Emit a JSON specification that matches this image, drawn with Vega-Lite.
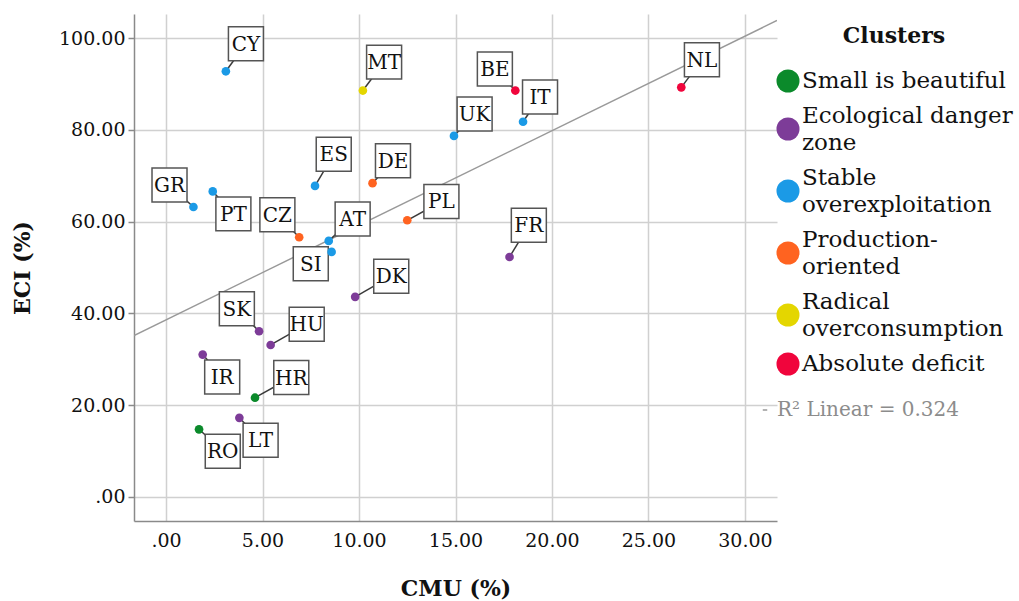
{
  "$schema": "https://vega.github.io/schema/vega-lite/v6.json",
  "autosize": "none",
  "width": 643,
  "height": 507,
  "padding": {"left": 134, "top": 14, "right": 242, "bottom": 80},
  "background": "white",
  "config": {
    "view": {"stroke": null},
    "font": "DejaVu Serif",
    "axis": {
      "labelFont": "DejaVu Serif",
      "titleFont": "DejaVu Serif",
      "labelFontSize": 19,
      "titleFontSize": 22,
      "titleFontWeight": "bold",
      "labelColor": "#111",
      "titleColor": "#111",
      "gridColor": "#d0d0d0",
      "gridWidth": 1.5,
      "domainColor": "#8a8a8a",
      "domainWidth": 1.5,
      "tickColor": "#8a8a8a",
      "tickWidth": 1.5
    },
    "legend": {
      "labelFont": "DejaVu Serif",
      "titleFont": "DejaVu Serif",
      "labelFontSize": 23,
      "titleFontSize": 22,
      "labelColor": "#111",
      "titleColor": "#111",
      "labelLimit": 500
    }
  },
  "data": {
    "values": [
      {"c": "CY", "cmu": 3.1, "eci": 92.8, "cluster": "Stable overexploitation", "lx": 4.14, "ly": 98.8},
      {"c": "MT", "cmu": 10.2, "eci": 88.6, "cluster": "Radical overconsumption", "lx": 11.3, "ly": 94.8},
      {"c": "ES", "cmu": 7.72, "eci": 67.8, "cluster": "Stable overexploitation", "lx": 8.69, "ly": 74.7},
      {"c": "DE", "cmu": 10.7, "eci": 68.4, "cluster": "Production-oriented", "lx": 11.76, "ly": 73.3},
      {"c": "GR", "cmu": 1.42, "eci": 63.2, "cluster": "Stable overexploitation", "lx": 0.18, "ly": 68.0},
      {"c": "PT", "cmu": 2.42, "eci": 66.6, "cluster": "Stable overexploitation", "lx": 3.49, "ly": 61.7},
      {"c": "CZ", "cmu": 6.9, "eci": 56.6, "cluster": "Production-oriented", "lx": 5.77, "ly": 61.5},
      {"c": "AT", "cmu": 8.43, "eci": 55.8, "cluster": "Stable overexploitation", "lx": 9.67, "ly": 60.6},
      {"c": "SI", "cmu": 8.58, "eci": 53.4, "cluster": "Stable overexploitation", "lx": 7.5, "ly": 50.8},
      {"c": "PL", "cmu": 12.5, "eci": 60.3, "cluster": "Production-oriented", "lx": 14.27, "ly": 64.4},
      {"c": "UK", "cmu": 14.92, "eci": 78.7, "cluster": "Stable overexploitation", "lx": 15.99, "ly": 83.5},
      {"c": "BE", "cmu": 18.1, "eci": 88.6, "cluster": "Absolute deficit", "lx": 17.04, "ly": 93.3},
      {"c": "IT", "cmu": 18.5, "eci": 81.8, "cluster": "Stable overexploitation", "lx": 19.38, "ly": 87.2},
      {"c": "NL", "cmu": 26.7, "eci": 89.3, "cluster": "Absolute deficit", "lx": 27.77, "ly": 95.3},
      {"c": "FR", "cmu": 17.8, "eci": 52.3, "cluster": "Ecological danger zone", "lx": 18.8, "ly": 59.2},
      {"c": "DK", "cmu": 9.8, "eci": 43.6, "cluster": "Ecological danger zone", "lx": 11.67, "ly": 48.1},
      {"c": "SK", "cmu": 4.82, "eci": 36.1, "cluster": "Ecological danger zone", "lx": 3.67, "ly": 41.0},
      {"c": "HU", "cmu": 5.42, "eci": 33.1, "cluster": "Ecological danger zone", "lx": 7.29, "ly": 37.6},
      {"c": "IR", "cmu": 1.9, "eci": 31.0, "cluster": "Ecological danger zone", "lx": 2.91, "ly": 26.1},
      {"c": "HR", "cmu": 4.61, "eci": 21.6, "cluster": "Small is beautiful", "lx": 6.49, "ly": 26.0},
      {"c": "LT", "cmu": 3.8, "eci": 17.2, "cluster": "Ecological danger zone", "lx": 4.9, "ly": 12.3},
      {"c": "RO", "cmu": 1.71, "eci": 14.7, "cluster": "Small is beautiful", "lx": 2.94, "ly": 9.9}
    ]
  },
  "layer": [
    {
      "transform": [{"regression": "eci", "on": "cmu", "method": "linear", "extent": [-1.66, 31.66]}],
      "mark": {"type": "line", "strokeWidth": 1.5, "clip": true},
      "encoding": {
        "x": {"field": "cmu", "type": "quantitative", "scale": {"domain": [-1.66, 31.66], "nice": false, "zero": false},
          "axis": {"values": [0, 5, 10, 15, 20, 25, 30], "labelExpr": "datum.value == 0 ? '.00' : format(datum.value, '.2f')", "ticks": false, "labelPadding": 10, "title": "CMU (%)", "titlePadding": 28}},
        "y": {"field": "eci", "type": "quantitative", "scale": {"domain": [-5.3, 105.3], "nice": false, "zero": false},
          "axis": {"values": [0, 20, 40, 60, 80, 100], "labelExpr": "datum.value == 0 ? '.00' : format(datum.value, '.2f')", "tickSize": 6, "labelPadding": 3, "title": "ECI (%)", "titlePadding": 24}},
        "stroke": {"datum": "R² Linear = 0.324", "type": "nominal",
          "scale": {"range": ["#999999"]},
          "legend": {"title": null, "orient": "none", "legendX": 621, "legendY": 386, "symbolType": "stroke", "symbolSize": 20, "symbolStrokeWidth": 1.5, "labelColor": "#8c8c8c", "labelFontSize": 20, "labelOffset": 2}}
      }
    },
    {
      "mark": {"type": "rule", "color": "#3a3a3a", "strokeWidth": 1.5},
      "encoding": {
        "x": {"field": "cmu", "type": "quantitative"},
        "y": {"field": "eci", "type": "quantitative"},
        "x2": {"field": "lx"},
        "y2": {"field": "ly"}
      }
    },
    {
      "mark": {"type": "point", "shape": "M-1,-0.97L1,-0.97L1,0.97L-1,0.97Z", "size": 1225, "filled": false, "fill": "white", "fillOpacity": 1, "stroke": "#555555", "strokeWidth": 1.5, "opacity": 1},
      "encoding": {
        "x": {"field": "lx", "type": "quantitative"},
        "y": {"field": "ly", "type": "quantitative"}
      }
    },
    {
      "mark": {"type": "text", "font": "DejaVu Serif", "fontSize": 20, "color": "#111", "align": "center", "baseline": "middle", "dy": 1},
      "encoding": {
        "x": {"field": "lx", "type": "quantitative"},
        "y": {"field": "ly", "type": "quantitative"},
        "text": {"field": "c"}
      }
    },
    {
      "mark": {"type": "circle", "size": 75, "opacity": 1},
      "encoding": {
        "x": {"field": "cmu", "type": "quantitative"},
        "y": {"field": "eci", "type": "quantitative"},
        "fill": {"field": "cluster", "type": "nominal",
          "scale": {
            "domain": ["Small is beautiful", "Ecological danger zone", "Stable overexploitation", "Production-oriented", "Radical overconsumption", "Absolute deficit"],
            "range": ["#0b8a2b", "#7d3c98", "#1b9ae6", "#ff6320", "#e4d600", "#f0053c"]
          },
          "legend": {
            "title": "Clusters", "orient": "none", "legendX": 642, "legendY": 12,
            "titleFontWeight": "bold", "titleAnchor": "middle", "titleAlign": "center", "titlePadding": 21,
            "symbolType": "circle", "symbolSize": 530, "symbolStrokeWidth": 0, "symbolOpacity": 1,
            "labelOffset": 2, "rowPadding": 11,
            "labelExpr": "datum.label == 'Ecological danger zone' ? ['Ecological danger', 'zone'] : datum.label == 'Stable overexploitation' ? ['Stable', 'overexploitation'] : datum.label == 'Production-oriented' ? ['Production-', 'oriented'] : datum.label == 'Radical overconsumption' ? ['Radical', 'overconsumption'] : datum.label",
            "encode": {
              "labels": {
                "update": {
                  "lineHeight": {"value": 27},
                  "dy": {"signal": "indexof(['Ecological danger zone', 'Stable overexploitation', 'Production-oriented', 'Radical overconsumption'], datum.value) >= 0 ? -13.5 : 0"}
                }
              }
            }
          }
        }
      }
    }
  ]
}
